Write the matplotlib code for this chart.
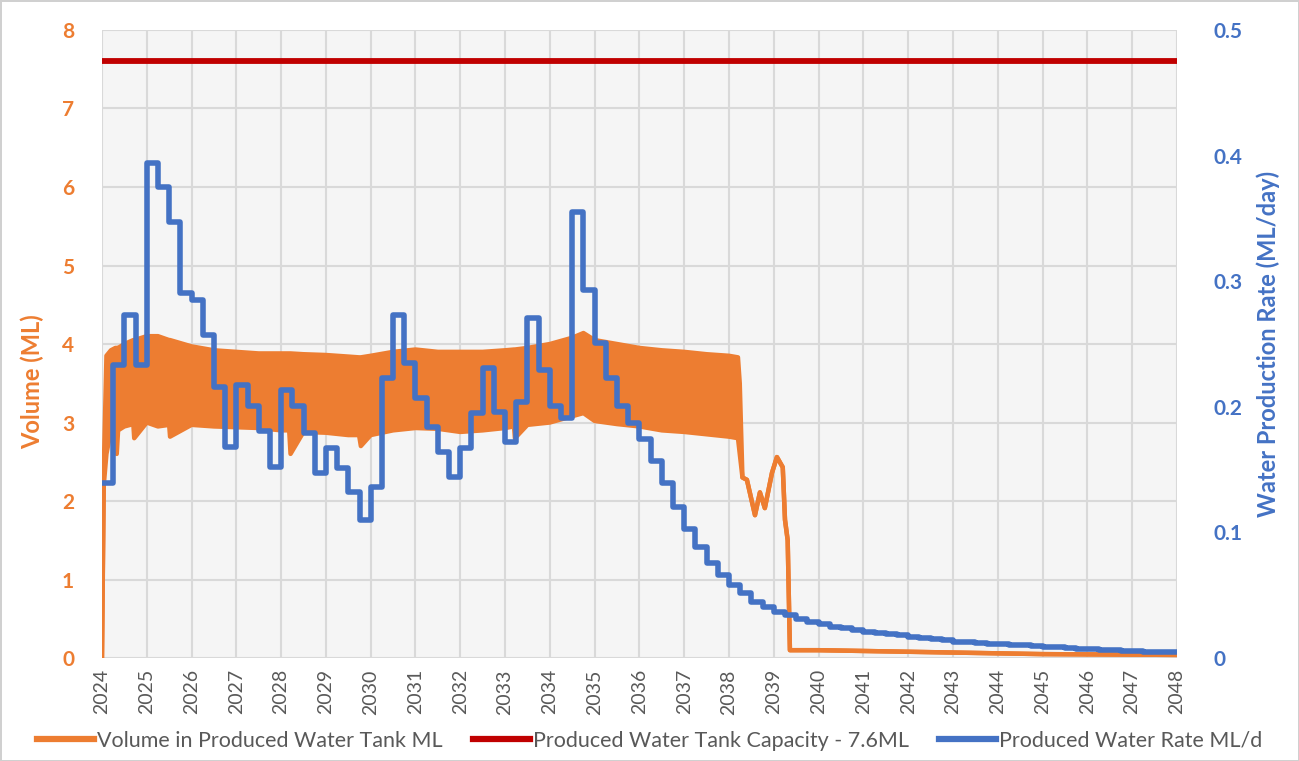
import matplotlib
matplotlib.use('Agg')
import matplotlib.pyplot as plt
from matplotlib.lines import Line2D
import numpy as np

plt.rcParams['font.family'] = ['Lato', 'DejaVu Sans']

ORANGE = '#ED7D31'
BLUE = '#4472C4'
RED = '#C00000'

years = list(range(2024, 2049))

# Produced water rate (ML/day), quarterly steps starting 2024.0
rate_start = 2024.0
rate_values = [
    0.139, 0.233, 0.273, 0.233,   # 2024
    0.394, 0.375, 0.347, 0.291,   # 2025
    0.285, 0.257, 0.216, 0.168,   # 2026
    0.217, 0.201, 0.181, 0.152,   # 2027
    0.213, 0.201, 0.179, 0.147,   # 2028
    0.167, 0.151, 0.132, 0.110,   # 2029
    0.136, 0.223, 0.273, 0.235,   # 2030
    0.207, 0.184, 0.164, 0.144,   # 2031
    0.167, 0.195, 0.231, 0.196,   # 2032
    0.172, 0.204, 0.271, 0.229,   # 2033
    0.201, 0.191, 0.355, 0.293,   # 2034
    0.251, 0.223, 0.201, 0.187,   # 2035
    0.174, 0.157, 0.139, 0.120,   # 2036
    0.103, 0.088, 0.076, 0.066,   # 2037
    0.058, 0.052, 0.045, 0.041,   # 2038
    0.037, 0.034, 0.031, 0.029,   # 2039
    0.027, 0.025, 0.024, 0.022,   # 2040
    0.021, 0.020, 0.019, 0.018,   # 2041
    0.017, 0.016, 0.015, 0.014,   # 2042
    0.013, 0.0125, 0.012, 0.0115, # 2043
    0.011, 0.0105, 0.010, 0.0095, # 2044
    0.009, 0.0085, 0.008, 0.0075, # 2045
    0.007, 0.0066, 0.0062, 0.0058,# 2046
    0.0055, 0.0052, 0.005, 0.0048,# 2047
    0.0046,                       # 2048
]

# Tank volume (ML): daily values swing inside a band, given as upper / lower envelope
vol_t = [2024.00, 2024.04, 2024.10, 2024.20, 2024.30, 2024.33, 2024.36,
         2024.50, 2024.70, 2024.72, 2025.00, 2025.25, 2025.50, 2025.52,
         2026.00, 2026.50, 2027.00, 2027.50, 2028.00, 2028.18, 2028.21,
         2028.50, 2029.00, 2029.50, 2029.74, 2029.78, 2030.00, 2030.50,
         2031.00, 2031.50, 2032.00, 2032.50, 2033.00, 2033.20, 2033.22,
         2033.50, 2034.00, 2034.50, 2034.75, 2035.00, 2035.50, 2036.00,
         2036.50, 2037.00, 2037.50, 2038.00, 2038.20, 2038.24, 2038.30,
         2038.40, 2038.58, 2038.69, 2038.80, 2038.96, 2039.07, 2039.20,
         2039.25, 2039.31, 2039.36, 2040.00, 2041.00, 2043.00, 2045.00,
         2048.00]
vol_upper = [0.0, 2.4, 3.85, 3.92, 3.95, 3.95, 3.95,
             4.0, 4.05, 4.05, 4.1, 4.1, 4.05, 4.05,
             3.97, 3.92, 3.9, 3.88, 3.88, 3.88, 3.88,
             3.87, 3.86, 3.84, 3.83, 3.83, 3.85, 3.9,
             3.93, 3.9, 3.9, 3.9, 3.92, 3.93, 3.93,
             3.95, 4.0, 4.08, 4.14, 4.05, 4.0, 3.95,
             3.92, 3.9, 3.87, 3.85, 3.83, 3.5, 2.3,
             2.27, 1.82, 2.11, 1.91, 2.36, 2.56, 2.43,
             1.76, 1.5, 0.1, 0.1, 0.09, 0.07, 0.05,
             0.04]
vol_lower = [0.0, 2.2, 2.6, 2.9, 2.9, 2.6, 2.9,
             2.95, 2.98, 2.8, 3.0, 2.95, 2.97, 2.82,
             2.97, 2.95, 2.94, 2.93, 2.9, 2.9, 2.6,
             2.88, 2.87, 2.84, 2.84, 2.7, 2.84, 2.9,
             2.93, 2.92, 2.88, 2.9, 2.93, 2.95, 2.8,
             2.97, 3.0, 3.08, 3.12, 3.02, 2.98, 2.95,
             2.9, 2.88, 2.85, 2.82, 2.8, 2.6, 2.3,
             2.27, 1.82, 2.11, 1.91, 2.36, 2.56, 2.43,
             1.76, 1.5, 0.1, 0.1, 0.09, 0.07, 0.05,
             0.04]

capacity = 7.6

fig = plt.figure(figsize=(12.99, 7.61), dpi=100)
fig.patch.set_facecolor('white')
fig.patch.set_edgecolor('#d0d0d0')
fig.patch.set_linewidth(2)
ax = fig.add_axes([0.0785, 0.1353, 0.8275, 0.8253])
ax.set_facecolor('#f5f5f5')

ax.fill_between(vol_t, vol_lower, vol_upper, color=ORANGE, lw=0, zorder=2)
ax.plot(vol_t, vol_upper, color=ORANGE, lw=3.2, zorder=2)
ax.plot(vol_t, vol_lower, color=ORANGE, lw=3.2, zorder=2)
ax.axhline(capacity, color=RED, lw=4.2, zorder=3)

ax.set_xlim(2024, 2048)
ax.set_ylim(0, 8)
ax.set_yticks(range(0, 9))
ax.set_xticks(years)
ax.set_xticklabels([str(y) for y in years], rotation=90, fontsize=14, color='#595959')
ax.tick_params(axis='x', length=0, pad=8)
ax.tick_params(axis='y', length=0, pad=20, labelcolor=ORANGE, labelsize=15)
for lab in ax.get_yticklabels():
    lab.set_fontweight('bold')
ax.grid(True, color='#d9d9d9', lw=1.5, zorder=0)
ax.set_axisbelow(True)
ax.set_ylabel('Volume (ML)', color=ORANGE, fontsize=17, fontweight='bold')
ax.yaxis.set_label_coords(-0.054, 0.44)

ax2 = ax.twinx()
t_rate = rate_start + 0.25 * np.arange(len(rate_values))
ax2.plot(t_rate, rate_values, drawstyle='steps-post', color=BLUE, lw=4.0, zorder=4)
ax2.set_ylim(0, 0.5)
ax2.set_yticks([0, 0.1, 0.2, 0.3, 0.4, 0.5])
ax2.set_yticklabels(['0', '0.1', '0.2', '0.3', '0.4', '0.5'])
ax2.tick_params(axis='y', length=0, pad=26, labelcolor=BLUE, labelsize=15)
for lab in ax2.get_yticklabels():
    lab.set_fontweight('bold')
ax2.set_ylabel('Water Production Rate (ML/day)', color=BLUE, fontsize=17,
               fontweight='bold', labelpad=10)

for a in (ax, ax2):
    for s in a.spines.values():
        s.set_visible(False)

handles = [Line2D([], [], color=ORANGE, lw=4.5),
           Line2D([], [], color=RED, lw=4.5),
           Line2D([], [], color=BLUE, lw=4.5)]
labels = ['Volume in Produced Water Tank ML',
          'Produced Water Tank Capacity - 7.6ML',
          'Produced Water Rate ML/d']
fig.legend(handles, labels, loc='lower center', bbox_to_anchor=(0.5, -0.012),
           ncol=3, frameon=False, fontsize=15.5, handlelength=2.65,
           handletextpad=0.15, columnspacing=1.4, labelcolor='#595959')

fig.savefig('out.png', dpi=100)
